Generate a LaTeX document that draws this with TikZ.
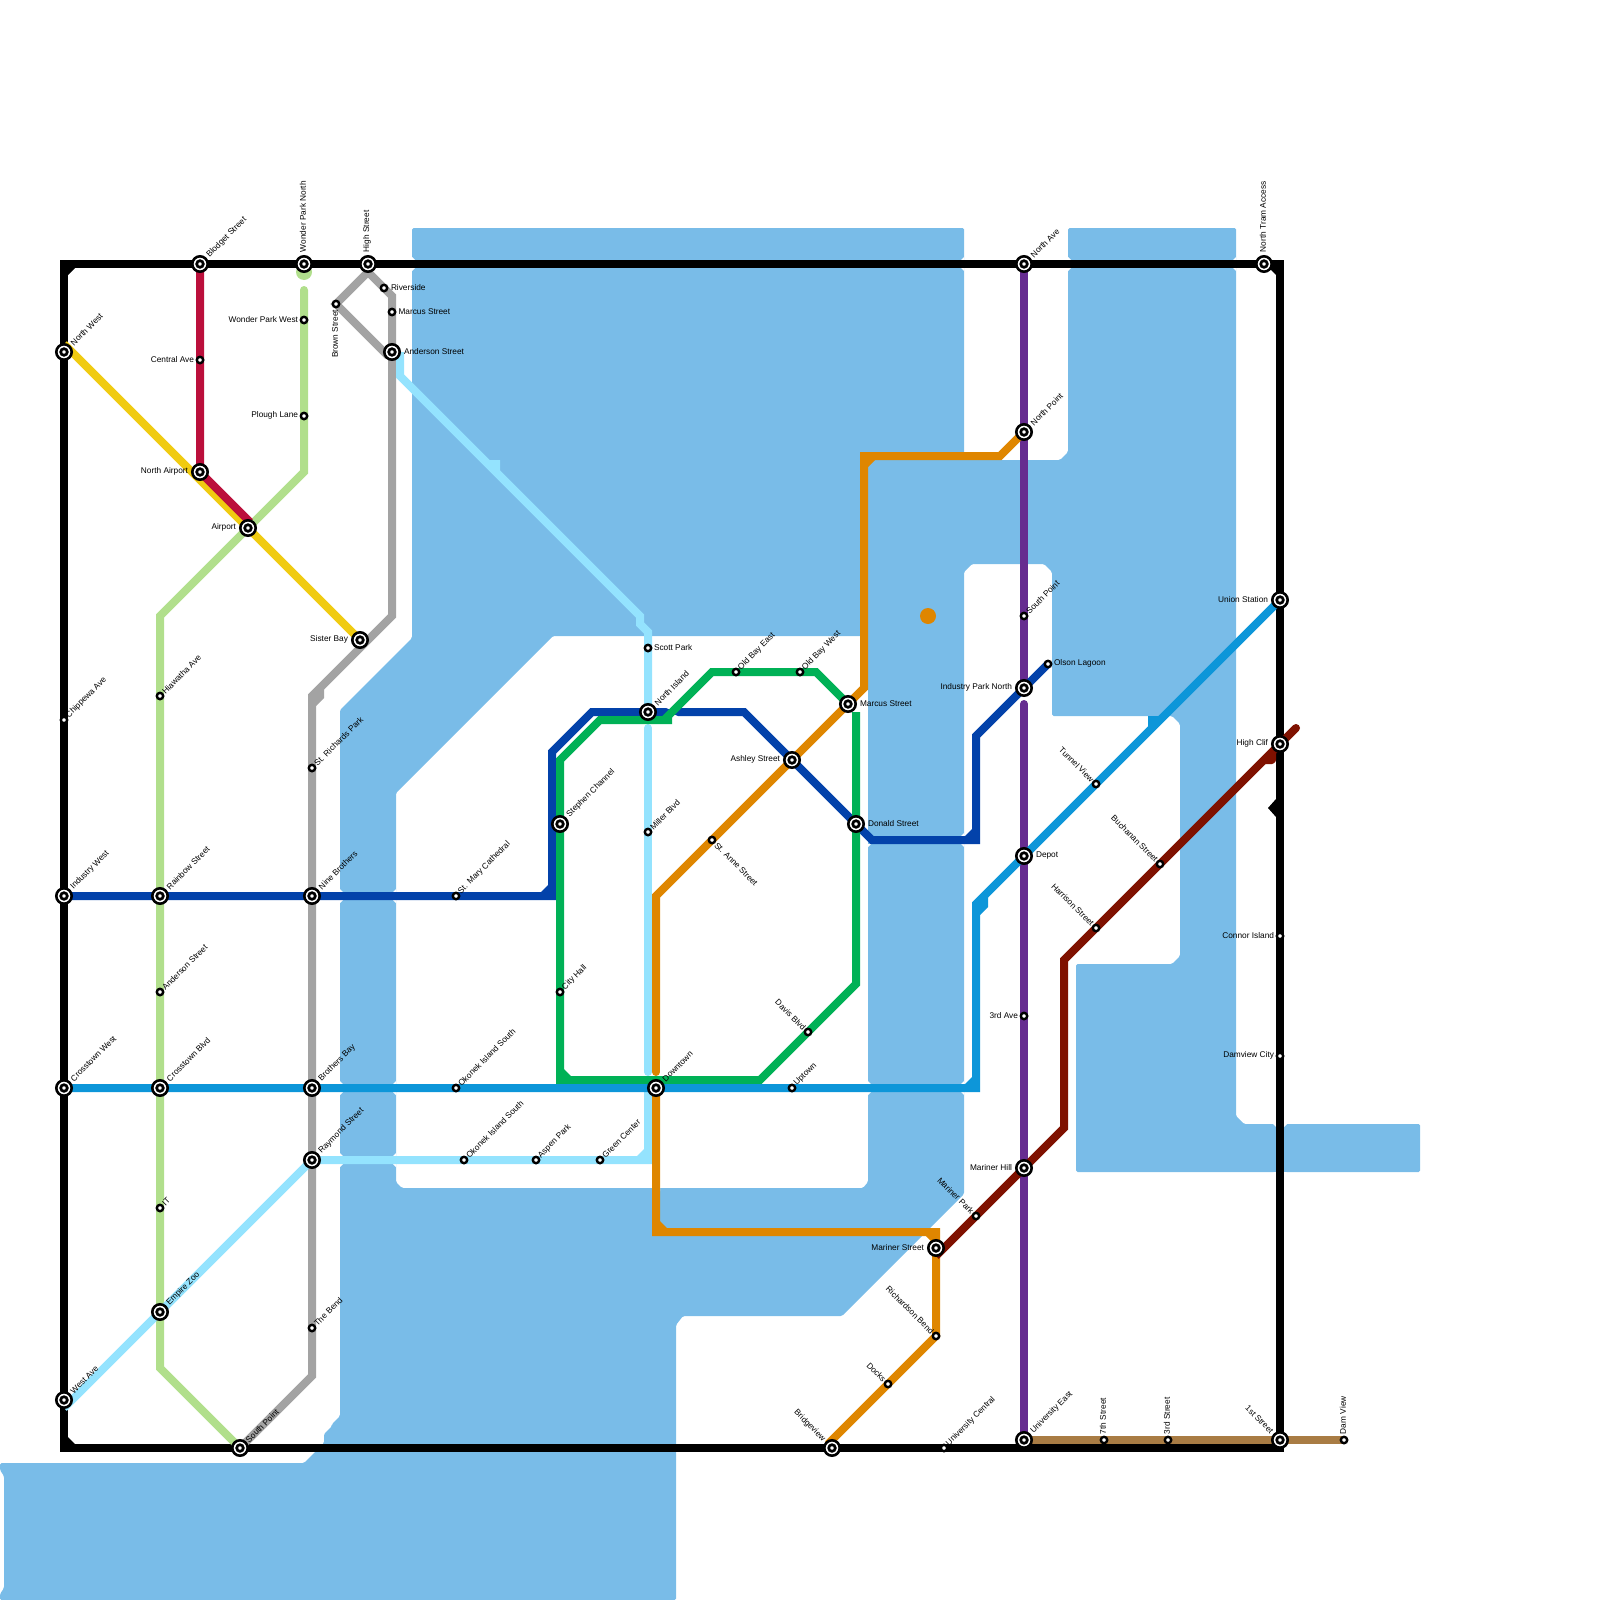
\documentclass[tikz,border=0pt]{standalone}
\usepackage{fontspec}
\setmainfont{Liberation Sans}
\pgfdeclarelayer{lines}
\pgfsetlayers{lines,main}
\definecolor{cwater}{HTML}{79BCE8}
\definecolor{cgreen}{HTML}{00B156}
\definecolor{clime}{HTML}{B1DF8C}
\definecolor{cgray}{HTML}{A3A3A3}
\definecolor{ccrim}{HTML}{BB0F3B}
\definecolor{cyell}{HTML}{F0CB11}
\definecolor{cnavy}{HTML}{0342AA}
\definecolor{corange}{HTML}{DF8600}
\definecolor{csky}{HTML}{0D96D9}
\definecolor{cpale}{HTML}{94E3FE}
\definecolor{cpurp}{HTML}{662C90}
\definecolor{cred}{HTML}{7F1100}
\definecolor{cbrown}{HTML}{A97C44}
\tikzset{
  big/.style={circle,draw=black,fill=white,line width=2.6pt,minimum size=15.4pt,inner sep=0pt,outer sep=0pt,
    path picture={\draw[black,fill=white,line width=2.7pt] (path picture bounding box.center) circle (3.3pt);}},
  small/.style={circle,draw=black,fill=white,line width=2.4pt,minimum size=6.4pt,inner sep=0pt,outer sep=0pt},
  lab/.style={inner sep=0pt,outer sep=0pt,text=black,font=\fontsize{8.3}{9}\selectfont},
  lne/.style={anchor=west,xshift=#1pt,yshift=#1pt,rotate=45},
  lnw/.style={anchor=east,xshift=-#1pt,yshift=#1pt,rotate=-45},
  lse/.style={anchor=west,xshift=#1pt,yshift=-#1pt,rotate=-45},
  le/.style={anchor=west,xshift=#1pt,yshift=0.7pt},
  lw/.style={anchor=east,xshift=-#1pt,yshift=0.7pt},
  lup/.style={anchor=west,xshift=-1pt,yshift=#1pt,rotate=90},
  metro/.style={line width=8pt,line join=miter,miter limit=10},
}
\newcommand{\stn}[6]{\node[#4] (#1) at (#2,#3) {};\node[lab,#5] (lb#1) at (#1.center) {#6};}
\begin{document}
\begin{tikzpicture}[x=1pt,y=-1pt]
\useasboundingbox (0,0) rectangle (1600,1600);
% stations
\stn{blodget}{200}{264}{big}{lne=8}{Blodget Street}
\stn{wpn}{304}{264}{big}{lup=12}{Wonder Park North}
\stn{high}{368}{264}{big}{lup=12}{High Street}
\stn{northave}{1024}{264}{big}{lne=8}{North Ave}
\stn{ntram}{1264}{264}{big}{lup=12}{North Tram Access}
\stn{northwest}{64}{352}{big}{lne=8}{North West}
\stn{andersonA}{392}{352}{big}{le=12}{Anderson Street}
\stn{nairport}{200}{472}{big}{lw=12}{North Airport}
\stn{airport}{248}{528}{big}{lw=12}{Airport}
\stn{sister}{360}{640}{big}{lw=12}{Sister Bay}
\stn{npoint}{1024}{432}{big}{lne=8}{North Point}
\stn{union}{1280}{600}{big}{lw=12}{Union Station}
\stn{nisland}{648}{712}{big}{lne=8}{North Island}
\stn{marcusA}{848}{704}{big}{le=12}{Marcus Street}
\stn{ipn}{1024}{688}{big}{lw=12}{Industry Park North}
\stn{ashley}{792}{760}{big}{lw=12}{Ashley Street}
\stn{highclif}{1280}{744}{big}{lw=12}{High Clif}
\stn{stephen}{560}{824}{big}{lne=8}{Stephen Channel}
\stn{donald}{856}{824}{big}{le=12}{Donald Street}
\stn{depot}{1024}{856}{big}{le=12}{Depot}
\stn{indwest}{64}{896}{big}{lne=8}{Industry West}
\stn{rainbow}{160}{896}{big}{lne=8}{Rainbow Street}
\stn{nine}{312}{896}{big}{lne=8}{Nine Brothers}
\stn{crosswest}{64}{1088}{big}{lne=8}{Crosstown West}
\stn{crossblvd}{160}{1088}{big}{lne=8}{Crosstown Blvd}
\stn{brothers}{312}{1088}{big}{lne=8}{Brothers Bay}
\stn{downtown}{656}{1088}{big}{lne=8}{Downtown}
\stn{raymond}{312}{1160}{big}{lne=8}{Raymond Street}
\stn{mhill}{1024}{1168}{big}{lw=12}{Mariner Hill}
\stn{mstreet}{936}{1248}{big}{lw=12}{Mariner Street}
\stn{empire}{160}{1312}{big}{lne=8}{Empire Zoo}
\stn{westave}{64}{1400}{big}{lne=8}{West Ave}
\stn{univeast}{1024}{1440}{big}{lne=8}{University East}
\stn{first}{1280}{1440}{big}{lnw=8}{1st Street}
\stn{bridge}{832}{1448}{big}{lnw=8}{Bridgeview}
\stn{spoint}{240}{1448}{big}{lne=7}{South Point}
\stn{river}{384}{288}{small}{le=7}{Riverside}
\stn{brown}{336}{304}{small}{anchor=east,xshift=-1pt,yshift=-6pt,rotate=90}{Brown Street}
\stn{marcusB}{392}{312}{small}{le=6.5}{Marcus Street}
\stn{wpw}{304}{320}{small}{lw=6}{Wonder Park West}
\stn{central}{200}{360}{small}{lw=6}{Central Ave}
\stn{plough}{304}{416}{small}{lw=6}{Plough Lane}
\stn{spointB}{1024}{616}{small}{lne=3.5}{South Point}
\stn{scott}{648}{648}{small}{le=6}{Scott Park}
\stn{olson}{1048}{664}{small}{le=6}{Olson Lagoon}
\stn{oldeast}{736}{672}{small}{lne=3.5}{Old Bay East}
\stn{oldwest}{800}{672}{small}{lne=3.5}{Old Bay West}
\stn{hiawatha}{160}{696}{small}{lne=3.5}{Hiawatha Ave}
\stn{chippewa}{64}{720}{small}{lne=3.5}{Chippewa Ave}
\stn{richards}{312}{768}{small}{lne=3.5}{St. Richards Park}
\stn{tunnel}{1096}{784}{small}{lnw=3.5}{Tunnel View}
\stn{miller}{648}{832}{small}{lne=3.5}{Miller Blvd}
\stn{anne}{712}{840}{small}{lse=4}{St. Anne Street}
\stn{buchanan}{1160}{864}{small}{lnw=3.5}{Buchanan Street}
\stn{stmary}{456}{896}{small}{lne=3.5}{St. Mary Cathedral}
\stn{harrison}{1096}{928}{small}{lnw=3.5}{Harrison Street}
\stn{connor}{1280}{936}{small}{lw=6}{Connor Island}
\stn{city}{560}{992}{small}{lne=3.5}{City Hall}
\stn{andersonB}{160}{992}{small}{lne=3.5}{Anderson Street}
\stn{davis}{808}{1032}{small}{lnw=3.5}{Davis Blvd}
\stn{thirdave}{1024}{1016}{small}{lw=6}{3rd Ave}
\stn{damcity}{1280}{1056}{small}{lw=6}{Damview City}
\stn{okonekA}{456}{1088}{small}{lne=3.5}{Okonek Island South}
\stn{uptown}{792}{1088}{small}{lne=3.5}{Uptown}
\stn{okonekB}{464}{1160}{small}{lne=3.5}{Okonek Island South}
\stn{aspen}{536}{1160}{small}{lne=3.5}{Aspen Park}
\stn{gcenter}{600}{1160}{small}{lne=3.5}{Green Center}
\stn{it}{160}{1208}{small}{lne=3.5}{IT}
\stn{mpark}{976}{1216}{small}{lnw=3.5}{Mariner Park}
\stn{bend}{312}{1328}{small}{lne=3.5}{The Bend}
\stn{richardson}{936}{1336}{small}{lnw=3.5}{Richardson Bend}
\stn{docks}{888}{1384}{small}{lnw=3.5}{Docks}
\stn{ucentral}{944}{1448}{small}{lne=3.5}{University Central}
\stn{seventh}{1104}{1440}{small}{lup=6}{7th Street}
\stn{thirdst}{1168}{1440}{small}{lup=6}{3rd Street}
\stn{dam}{1344}{1440}{small}{lup=6}{Dam View}
\begin{pgfonlayer}{lines}
% water
\fill[cwater,even odd rule,rounded corners=1.5pt]
 (412,228)--(964,228)--(964,460)--(1060,460)--(1068,452)--(1068,228)--(1236,228)--(1236,1116)--(1244,1124)--(1420,1124)--(1420,1172)--(1076,1172)--(1076,964)--(1172,964)--(1180,956)--(1180,724)--(1172,716)--(1052,716)--(1052,572)--(1044,564)--(972,564)--(964,572)--(964,1194)--(842,1316)--(683,1316)--(676,1325)--(676,1600)--(0,1600)--(0,1594)--(4,1588)--(4,1476)--(0,1470)--(0,1463)--(304,1463)--(324,1443)--(324,1434)--(332,1426)--(332,1424)--(340,1416)--(340,710)--(412,638)--cycle
 (553,636)--(868,636)--(868,1182)--(863,1188)--(402,1188)--(396,1182)--(396,793)--cycle;
% notches where a line crosses the water's edge
\foreach \x/\y/\d in {412/264/1,964/264/-1,1068/264/1,1236/264/-1,340/896/1,396/896/-1,340/1088/1,396/1088/-1,340/1160/1,396/1160/-1,868/840/1,964/840/-1,868/1088/1,964/1088/-1}{
  \fill[white] (\x,\y-7)--(\x+3*\d,\y-4)--(\x,\y-4)--cycle;
  \fill[white] (\x,\y+7)--(\x+3*\d,\y+4)--(\x,\y+4)--cycle;}
\foreach \x/\y/\d in {652/1188/1,660/1188/-1,1276/1124/-1,1276/1172/-1,1284/1124/1,1284/1172/1}{
  \fill[white] (\x,\y)--(\x,\y+3*\d*\d)--(\x+3*\d,\y)--cycle;}
\fill[corange] (928,616) circle (8);
% black
\draw[metro,black] (64,264)--(blodget.center)--(wpn.center)--(high.center)--(northave.center)--(ntram.center)--(1280,264)--(union.center)--(highclif.center)--(connor.center)--(damcity.center)--(first.center)--(1280,1448)--(ucentral.center)--(bridge.center)--(spoint.center)--(64,1448)--(westave.center)--(crosswest.center)--(indwest.center)--(chippewa.center)--(northwest.center)--cycle;
\fill[black] (68,268)--(68,275)--(75,268)--cycle (1276,268)--(1269,268)--(1276,275)--cycle (68,1444)--(68,1437)--(75,1444)--cycle (1268,808)--(1276,799)--(1276,817)--cycle;
% brown
\draw[metro,cbrown] (univeast.center)--(seventh.center)--(thirdst.center)--(first.center)--(dam.center);
% purple
\draw[metro,cpurp] (northave.center)--(npoint.center)--(spointB.center)--(ipn.center);
\draw[metro,cpurp,line cap=round] (ipn.center)++(0,16)--(thirdave.center)--(mhill.center)--(univeast.center);
\draw[metro,cpurp] (depot.center)--(thirdave.center);
% gray
\draw[metro,cgray] (368,272)--(336,304)--(388,356);
\draw[metro,cgray] (368,272)--(392,296)--(marcusB.center)--(andersonA.center)--(392,616)--(312,696)--(richards.center)--(nine.center)--(brothers.center)--(raymond.center)--(bend.center)--(312,1376)--(spoint.center);
\fill[cgray] (316,692)--(324,688)--(324,698)--(316,706)--cycle;
% lime
\fill[clime] (304,272) circle (8);
\draw[metro,clime,line cap=round] (304,290)--(plough.center)--(304,472)--(airport.center)--(160,616)--(hiawatha.center)--(rainbow.center)--(andersonB.center)--(crossblvd.center)--(it.center)--(empire.center)--(160,1368)--(spoint.center);
% yellow and crimson
\draw[metro,cyell] (64,344)--(airport.center)--(sister.center);
\draw[metro,ccrim] (blodget.center)--(central.center)--(nairport.center)--(250,522);
% pale blue
\draw[metro,cpale] (andersonA.center)++(8,0)--(400,376)--(640,616)--(640,624)--(648,632)--(scott.center)--(nisland.center);
\fill[cpale] (489,460)--(500,460)--(500,475)--cycle;
\draw[metro,cpale,line cap=round] (648,728)--(miller.center)--(648,1072);
\draw[metro,cpale] (648,1088)--(648,1160)--(gcenter.center)--(aspen.center)--(okonekB.center)--(raymond.center)--(empire.center)--(64,1408);
\fill[cpale] (644,1156)--(637,1156)--(644,1149)--cycle;
% navy
\draw[metro,cnavy] (indwest.center)--(rainbow.center)--(nine.center)--(stmary.center)--(552,896)--(552,752)--(592,712)--(nisland.center);
\draw[metro,cnavy,line cap=round] (nisland.center)--(666,712);
\draw[metro,cnavy,line cap=round] (678,712)--(744,712);
\draw[metro,cnavy] (678,712)--(744,712)--(ashley.center)--(donald.center)--(872,840)--(976,840)--(976,736)--(ipn.center);
\draw[metro,cnavy] (ipn.center)--(olson.center);
\fill[cnavy] (548,892)--(541,892)--(548,885)--cycle (972,836)--(965,836)--(972,829)--cycle;
% green
\draw[metro,cgreen] (672,720)--(600,720)--(560,760)--(stephen.center)--(city.center)--(560,1080)--(760,1080)--(davis.center)--(856,984)--(donald.center)--(856,712);
\draw[metro,cgreen] (marcusA.center)--(816,672)--(oldwest.center)--(oldeast.center)--(712,672)--(664,720);
\fill[cgreen] (564,1076)--(564,1069)--(571,1076)--cycle;
% orange
\draw[metro,corange] (npoint.center)--(1000,456)--(864,456)--(864,688)--(marcusA.center)--(ashley.center)--(anne.center)--(656,896)--(656,1060);
\draw[metro,corange,line cap=round] (656,1060)--(656,1072);
\draw[metro,corange] (downtown.center)--(656,1232)--(936,1232)--(mstreet.center)--(richardson.center)--(docks.center)--(828,1444);
\fill[corange] (660,1228)--(660,1221)--(667,1228)--cycle (932,1236)--(926,1236)--(932,1242)--cycle (868,460)--(868,467)--(875,460)--cycle;
% sky
\draw[metro,csky] (crosswest.center)--(crossblvd.center)--(brothers.center)--(okonekA.center)--(downtown.center)--(uptown.center)--(976,1088)--(976,904)--(depot.center)--(tunnel.center)--(union.center);
\fill[csky] (972,1084)--(965,1084)--(972,1077)--cycle (980,897)--(988,897)--(988,907)--(980,915)--(976,915)--cycle (1148,716)--(1160,716)--(1152,728)--(1148,728)--cycle;
% dark red
\draw[metro,cred] (936,1256)--(mpark.center)--(mhill.center)--(1064,1128)--(1064,960)--(harrison.center)--(buchanan.center)--(highclif.center);
\draw[metro,cred,line cap=round] (highclif.center)--(1296,728);
\fill[cred,rounded corners=1pt] (1262,764)--(1273,764)--(1276,761)--(1276,750)--(1262,758)--cycle;
\end{pgfonlayer}
\end{tikzpicture}
\end{document}
